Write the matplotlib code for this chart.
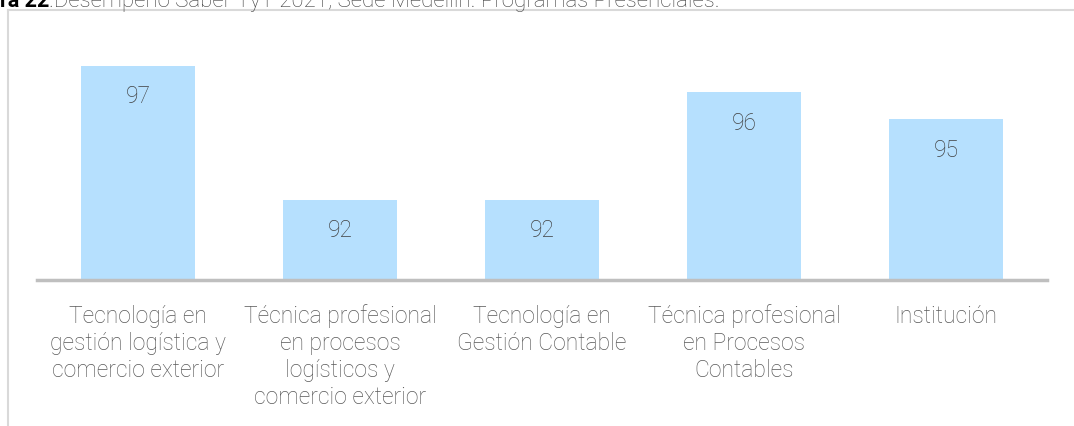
import matplotlib
matplotlib.use("Agg")
import matplotlib.pyplot as plt
from matplotlib.lines import Line2D

categories = [
    "Tecnología en\ngestión logística y\ncomercio exterior",
    "Técnica profesional\nen procesos\nlogísticos y\ncomercio exterior",
    "Tecnología en\nGestión Contable",
    "Técnica profesional\nen Procesos\nContables",
    "Institución",
]
values = [97, 92, 92, 96, 95]

title_bold = "ra 22"
title_rest = ".Desempeño Saber TyT 2021, Sede Medellín. Programas Presenciales."

plt.rcParams['font.family'] = ['Roboto', 'DejaVu Sans']

W, H = 1074, 427
fig = plt.figure(figsize=(W / 100, H / 100), dpi=100)
ax = fig.add_axes([37 / W, (H - 281) / H, 1010 / W, 270 / H])

x = range(len(categories))
bars = ax.bar(x, values, width=0.565, color='#b6e0fe', zorder=2)

ax.set_xlim(-0.5, len(categories) - 0.5)
ax.set_ylim(89, 99.07)

for b, v in zip(bars, values):
    ax.text(b.get_x() + b.get_width() / 2, v - 1.12, str(v),
            ha='center', va='center', fontsize=16.5, color='#404040',
            fontweight='light')

ax.axhline(89, color='#bfbfbf', lw=2.5, zorder=3, clip_on=False)

ax.set_xticks(list(x))
ax.set_xticklabels(categories, fontsize=16.5, color='#595959',
                   fontweight='light', linespacing=1.22)
ax.tick_params(axis='x', length=0, pad=17)
ax.set_yticks([])
for s in ax.spines.values():
    s.set_visible(False)

# outer frame (top and left borders)
fig.add_artist(Line2D([8 / W, 1], [1 - 11 / H, 1 - 11 / H],
                      color='#d9d9d9', lw=1.5, transform=fig.transFigure))
fig.add_artist(Line2D([8 / W, 8 / W], [0, 1 - 11 / H],
                      color='#d9d9d9', lw=1.5, transform=fig.transFigure))

# title, cut off at the top
t1 = fig.text(0, 1 - 7 / H, title_bold, fontsize=15.5, fontweight='bold',
              color='black', va='baseline', ha='left')
fig.canvas.draw()
bb = t1.get_window_extent()
fig.text(bb.x1 / W, 1 - 7 / H, title_rest, fontsize=16, color='#404040',
         fontweight='light', va='baseline', ha='left')

fig.savefig("out.png", dpi=100)
